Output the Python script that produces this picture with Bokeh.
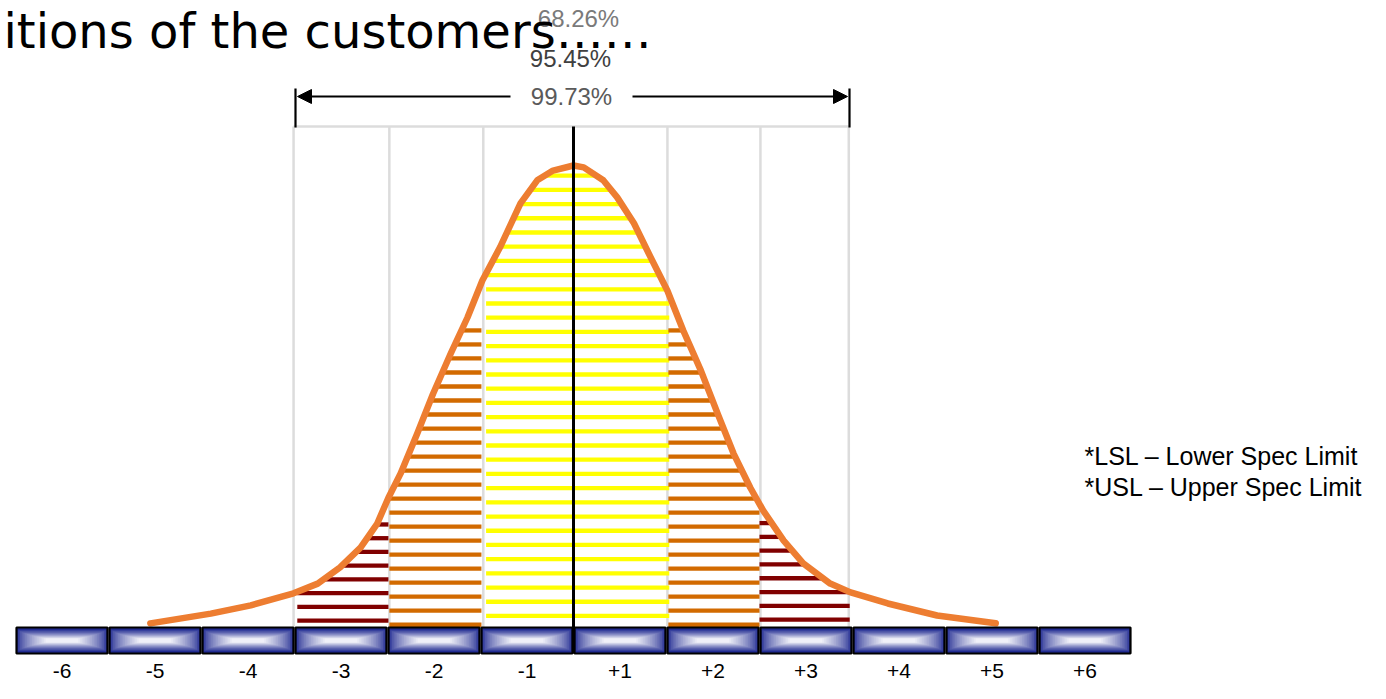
import numpy as np
from bokeh.plotting import figure
from bokeh.models import Range1d, Arrow, NormalHead
from bokeh.core.properties import value
from bokeh.embed import file_html
from bokeh.resources import INLINE

# ---------------- data ----------------
TITLE = "itions of the customers……"
PCT_LABELS = ["68.26%", "95.45%", "99.73%"]
NOTES = ["*LSL – Lower Spec Limit", "*USL – Upper Spec Limit"]

TICK_LABELS = ["-6", "-5", "-4", "-3", "-2", "-1", "+1", "+2", "+3", "+4", "+5", "+6"]
TICK_POS = [-5.5, -4.5, -3.5, -2.5, -1.5, -0.5, 0.5, 1.5, 2.5, 3.5, 4.5, 5.5]

BOX_LEFT = [-6, -5, -4, -3, -2, -1, 0, 1, 2, 3, 4, 5]
BOX_RIGHT = [-5, -4, -3, -2, -1, 0, 1, 2, 3, 4, 5, 6]

SIGMA_LINES = [-3.01, -1.98, -0.97, 1.01, 2.01, 2.96]

# distribution curve (x in sigma, y relative height, peak = 100)
CURVE_X = [-4.55, -3.90, -3.47, -3.01, -2.75, -2.51, -2.29, -2.11, -1.99, -1.86,
           -1.68, -1.51, -1.32, -1.14, -0.98, -0.79, -0.57, -0.39, -0.22, 0.00,
           0.11, 0.32, 0.47, 0.65, 0.83, 1.01, 1.18, 1.37, 1.55, 1.72,
           1.90, 2.04, 2.26, 2.47, 2.76, 2.98, 3.38, 3.91, 4.54]
CURVE_Y = [0.9, 3.0, 4.8, 7.4, 9.5, 13.0, 17.3, 22.5, 28.1, 33.3,
           42.0, 50.6, 59.3, 67.1, 75.1, 82.3, 91.8, 96.8, 98.9, 100.0,
           99.6, 96.8, 93.1, 87.5, 80.1, 72.9, 64.3, 55.6, 46.3, 37.7,
           30.3, 25.3, 18.8, 13.9, 9.5, 7.6, 5.2, 2.6, 0.9]

# hatched bands under the curve
BAND_LEFT = [-0.94, -1.98, 1.02, -2.97, 2.00]
BAND_RIGHT = [1.03, -0.99, 2.00, -1.99, 2.97]
BAND_TOP = [97.8, 64.3, 64.3, 22.3, 22.6]
BAND_BOTTOM = [2.5, 0.6, 0.6, 1.5, 1.7]
BAND_COUNT = [32, 22, 22, 8, 8]
BAND_COLOR = ["#FFFF00", "#D26A00", "#D26A00", "#800000", "#800000"]

# ---------------- layout helpers (pixel -> data) ----------------
PXS = 93.0      # px per sigma
PYS = 4.62      # px per unit of height
CX, BY = 573.0, 627.0


def X(px):
    return (px - CX) / PXS


def Y(py):
    return (BY - py) / PYS


W_FIG, H_FIG = 1370, 683
p = figure(width=W_FIG, height=H_FIG,
           x_range=Range1d(X(0), X(W_FIG)), y_range=Range1d(Y(H_FIG), Y(0)),
           output_backend="svg", toolbar_location=None, min_border=0,
           x_axis_type=None, y_axis_type=None, outline_line_color=None,
           background_fill_color="white", border_fill_color="white")
p.grid.visible = False

LINE_TOP = Y(126)
BOX_TOP, BOX_BOT = Y(627), Y(653)

# grey sigma lines + top connector
p.segment(x0=SIGMA_LINES, y0=[LINE_TOP] * len(SIGMA_LINES), x1=SIGMA_LINES,
          y1=[BOX_BOT] * len(SIGMA_LINES), line_color="#DCDCDC", line_width=2.5)
p.segment(x0=[SIGMA_LINES[0]], y0=[LINE_TOP], x1=[SIGMA_LINES[-1]], y1=[LINE_TOP],
          line_color="#DCDCDC", line_width=2.5)

# hatch stripes
cx = np.array(CURVE_X)
cy = np.array(CURVE_Y)
ipk = int(np.argmax(cy))
lx, ly = cx[:ipk + 1], cy[:ipk + 1]
rx, ry = cx[ipk:][::-1], cy[ipk:][::-1]
sx0, sx1, sy, scol = [], [], [], []
for a, b, top, bot, n, col in zip(BAND_LEFT, BAND_RIGHT, BAND_TOP, BAND_BOTTOM,
                                  BAND_COUNT, BAND_COLOR):
    for lev in np.linspace(bot, top, n):
        xl = np.interp(lev, ly, lx)
        xr = np.interp(lev, ry, rx)
        s0, s1 = max(a, xl), min(b, xr)
        if s1 - s0 > 0.03:
            sx0.append(s0); sx1.append(s1); sy.append(lev); scol.append(col)
p.segment(x0=sx0, y0=sy, x1=sx1, y1=sy, line_color=scol, line_width=4.3, line_cap="butt")

# curve
p.line(CURVE_X, CURVE_Y, line_color="#ED7D31", line_width=6.5, line_cap="round",
       line_join="round")

# centre line
p.segment(x0=[0], y0=[LINE_TOP], x1=[0], y1=[BOX_BOT], line_color="black", line_width=3)

# gradient boxes
inset = 1.0 / PXS
N = 18
blue = np.array([34, 44, 146], dtype=float)
white = np.array([248, 248, 252], dtype=float)
Wb = 1 - 2 * inset
Hb = BOX_TOP - BOX_BOT
ql, qr, qt, qb, qc = [], [], [], [], []
for i in range(N):
    t = i / N
    s = t ** 0.7
    c = blue * (1 - s) + white * s
    col = "#%02x%02x%02x" % tuple(int(round(v)) for v in c)
    xi = t * 0.34 * Wb
    yi = (t ** 0.5) * 0.44 * Hb
    for l, r in zip(BOX_LEFT, BOX_RIGHT):
        ql.append(l + inset + xi); qr.append(r - inset - xi)
        qt.append(BOX_TOP - yi); qb.append(BOX_BOT + yi); qc.append(col)
p.quad(left=ql, right=qr, top=qt, bottom=qb, fill_color=qc, line_color=None)
p.quad(left=[l + inset for l in BOX_LEFT], right=[r - inset for r in BOX_RIGHT],
       top=[BOX_TOP] * len(BOX_LEFT), bottom=[BOX_BOT] * len(BOX_LEFT),
       fill_color=None, line_color="black", line_width=2.2)

# tick labels
p.text(x=TICK_POS, y=[Y(670)] * len(TICK_POS), text=TICK_LABELS,
       text_font=value("Liberation Sans"), text_font_size="21px",
       text_align="center", text_baseline="middle", text_color="black")

# bracket + arrows
p.segment(x0=[X(295), X(849)], y0=[Y(88), Y(88)], x1=[X(295), X(849)], y1=[Y(127), Y(127)],
          line_color="black", line_width=2.2)
ay = Y(96)
for xs, xe in [(X(510), X(297)), (X(632), X(847))]:
    p.add_layout(Arrow(end=NormalHead(size=14, fill_color="black", line_color="black"),
                       x_start=xs, y_start=ay, x_end=xe, y_end=ay,
                       line_color="black", line_width=2))

# percentage labels (68.26% sits under the title text)
p.text(x=[X(578)], y=[Y(18)], text=[PCT_LABELS[0]], text_font=value("Liberation Sans"),
       text_font_size="24px", text_align="center", text_baseline="middle",
       text_color="#7a7a7a")
p.text(x=[X(570), X(571)], y=[Y(58), Y(96)], text=PCT_LABELS[1:],
       text_font=value("Liberation Sans"), text_font_size="24px",
       text_align="center", text_baseline="middle", text_color=["#404040", "#5a5a5a"])

# title
p.text(x=[X(3)], y=[Y(30)], text=[TITLE], text_font=value("DejaVu Sans"),
       text_font_size="48px", text_align="left", text_baseline="middle",
       text_color="black")

# notes
p.text(x=[X(1084), X(1084)], y=[Y(455), Y(486)], text=NOTES,
       text_font=value("Liberation Sans"), text_font_size="25px",
       text_align="left", text_baseline="middle", text_color="black")

open("out.html", "w").write(file_html(p, INLINE))
